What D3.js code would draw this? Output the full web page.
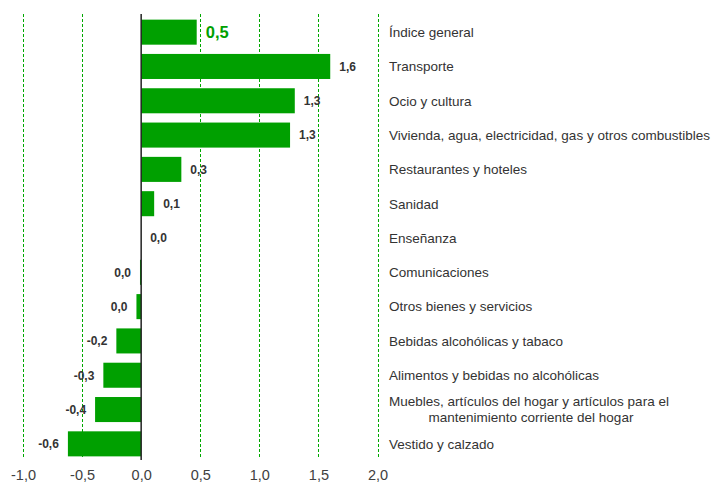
<!DOCTYPE html>
<html>
<head>
<meta charset="utf-8">
<script src="https://cdn.jsdelivr.net/npm/d3@7"></script>
<style>
  body { margin: 0; background: #fff; }
  svg { font-family: "Liberation Sans", Arial, sans-serif; }
</style>
</head>
<body>
<div id="chart"></div>
<script>
// Data
const categories = [
    "Índice general",
    "Transporte",
    "Ocio y cultura",
    "Vivienda, agua, electricidad, gas y otros combustibles",
    "Restaurantes y hoteles",
    "Sanidad",
    "Enseñanza",
    "Comunicaciones",
    "Otros bienes y servicios",
    "Bebidas alcohólicas y tabaco",
    "Alimentos y bebidas no alcohólicas",
    "Muebles, artículos del hogar y artículos para el|mantenimiento corriente del hogar",
    "Vestido y calzado"
];
const values = [0.47, 1.6, 1.3, 1.26, 0.34, 0.11, 0.0, -0.01, -0.04, -0.21, -0.32, -0.39, -0.62];
const valueLabels = ["0,5", "1,6", "1,3", "1,3", "0,3", "0,1", "0,0", "0,0", "0,0", "-0,2", "-0,3", "-0,4", "-0,6"];
const tickValues = [-1, -0.5, 0, 0.5, 1, 1.5, 2];
const tickLabels = ["-1,0", "-0,5", "0,0", "0,5", "1,0", "1,5", "2,0"];

const data = categories.map((c, i) => ({ name: c, value: values[i], label: valueLabels[i], i: i }));

const width = 718;
const height = 487;

const svg = d3.select("#chart")
    .append("svg")
    .attr("width", width)
    .attr("height", height);

const xScale = d3.scaleLinear()
    .domain([-1, 2])
    .range([23, 377.5]);

const yScale = d3.scaleBand()
    .domain(categories)
    .range([15, 461])
    .paddingInner(0.27)
    .paddingOuter(0.135);

// gridlines
svg.selectAll(".grid")
    .data(tickValues.filter(d => d !== 0))
    .enter()
    .append("line")
    .attr("class", "grid")
    .attr("x1", d => Math.round(xScale(d)) + 0.5)
    .attr("x2", d => Math.round(xScale(d)) + 0.5)
    .attr("y1", 14)
    .attr("y2", 459)
    .attr("stroke", "#00a800")
    .attr("stroke-width", 1)
    .attr("stroke-dasharray", "3,2");

// bars
svg.selectAll(".bar")
    .data(data)
    .enter()
    .append("rect")
    .attr("class", "bar")
    .attr("x", d => xScale(Math.min(0, d.value)))
    .attr("width", d => Math.abs(xScale(d.value) - xScale(0)))
    .attr("y", d => yScale(d.name))
    .attr("height", yScale.bandwidth())
    .attr("fill", "#00a000");

// zero line
svg.append("line")
    .attr("x1", xScale(0))
    .attr("x2", xScale(0))
    .attr("y1", 14)
    .attr("y2", 460)
    .attr("stroke", "#222")
    .attr("stroke-width", 1.5);

// value labels - right of positive bars, left of negative ones
svg.selectAll(".value")
    .data(data)
    .enter()
    .append("text")
    .attr("class", "value")
    .attr("x", d => d.value < 0 ? xScale(d.value) - 9 : xScale(d.value) + 9)
    .attr("y", d => yScale(d.name) + yScale.bandwidth() / 2)
    .attr("dy", "0.36em")
    .attr("text-anchor", d => d.value < 0 ? "end" : "start")
    .style("font-weight", "bold")
    .style("font-size", d => d.i === 0 ? "16.5px" : "12px")
    .attr("fill", d => d.i === 0 ? "#00a000" : "#333")
    .text(d => d.label);

// category labels
const fontCat = "13.5px";
const catG = svg.append("g");
data.forEach(d => {
    const lines = d.name.split("|");
    const cy = yScale(d.name) + yScale.bandwidth() / 2;
    if (lines.length === 1) {
        catG.append("text")
            .attr("x", 389)
            .attr("y", cy)
            .attr("dy", "0.36em")
            .style("font-size", fontCat)
            .attr("fill", "#333")
            .text(lines[0]);
    } else {
        const t1 = catG.append("text")
            .attr("x", 389)
            .attr("y", cy - 8)
            .attr("dy", "0.36em")
            .style("font-size", fontCat)
            .attr("fill", "#333")
            .text(lines[0]);
        const w = t1.node().getComputedTextLength();
        catG.append("text")
            .attr("x", 389 + w / 2 + 2)
            .attr("y", cy + 8)
            .attr("dy", "0.36em")
            .attr("text-anchor", "middle")
            .style("font-size", fontCat)
            .attr("fill", "#333")
            .text(lines[1]);
    }
});

// x axis labels
const xAxis = d3.axisBottom(xScale)
    .tickValues(tickValues)
    .tickFormat((d, i) => tickLabels[i])
    .tickSize(0)
    .tickPadding(0);

const axisG = svg.append("g")
    .attr("transform", "translate(0,470)")
    .call(xAxis);
axisG.select(".domain").remove();
axisG.selectAll("text")
    .style("font-size", "14.5px")
    .style("font-family", "'Liberation Sans', Arial, sans-serif")
    .attr("fill", "#404040");
</script>
</body>
</html>
